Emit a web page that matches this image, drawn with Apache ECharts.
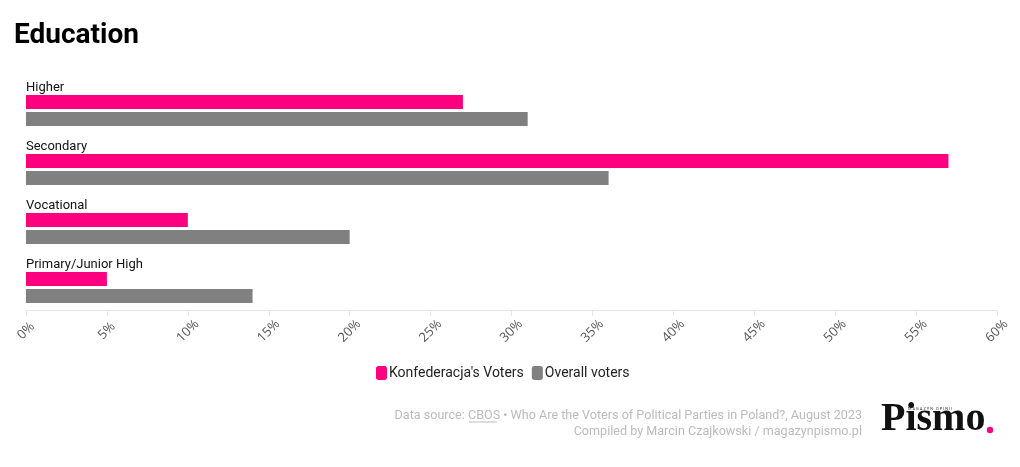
<!DOCTYPE html>
<html>
<head>
<meta charset="utf-8">
<script src="https://cdn.jsdelivr.net/npm/echarts@6/dist/echarts.min.js"></script>
<style>
  html, body { margin: 0; padding: 0; background: #fff; }
  #chart { width: 1020px; height: 467px; }
</style>
</head>
<body>
<div id="chart"></div>
<script>
const categories = ['Higher', 'Secondary', 'Vocational', 'Primary/Junior High']
const konfederacja = [27, 57, 10, 5]
const overall = [31, 36, 20, 14]
const xTicks = { min: 0, max: 60, interval: 5 }

const chart = echarts.init(document.getElementById('chart'))
chart.setOption({
  animation: false,
  textStyle: { fontFamily: 'Roboto' },
  title: {
    text: 'Education', left: 9, top: 17,
    textStyle: { fontSize: 28, fontWeight: 'bold', color: '#000', fontFamily: 'Roboto' }
  },
  legend: {
    bottom: 82, left: 371, itemWidth: 11, itemHeight: 14, itemGap: 8,
    icon: 'roundRect',
    textStyle: { fontSize: 14, color: '#222', padding: [0, 0, 0, -3] },
    data: ["Konfederacja's Voters", 'Overall voters']
  },
  grid: { left: 26, right: 23, top: 81, bottom: 150 },
  xAxis: {
    type: 'value', min: xTicks.min, max: xTicks.max, interval: xTicks.interval,
    offset: -7,
    axisLine: { show: true, lineStyle: { color: '#e6e6e6' } },
    axisTick: { show: true, length: 6, lineStyle: { color: '#e6e6e6' } },
    splitLine: { show: false },
    axisLabel: {
      rotate: 45, margin: 21, fontSize: 13, color: '#555', fontFamily: 'Open Sans',
      align: 'center', verticalAlign: 'middle',
      formatter: v => v + '%'
    }
  },
  yAxis: {
    type: 'category', data: categories, inverse: true,
    axisLine: { show: false }, axisTick: { show: false },
    axisLabel: {
      inside: true, margin: 0, fontSize: 13, color: '#111',
      verticalAlign: 'bottom', padding: [0, 0, 16, 0]
    }
  },
  series: [
    {
      name: "Konfederacja's Voters", type: 'bar', data: konfederacja,
      barWidth: 14, barGap: '22%', itemStyle: { color: '#fd0080' }
    },
    {
      name: 'Overall voters', type: 'bar', data: overall,
      barWidth: 14, barGap: '22%', itemStyle: { color: '#808080' }
    }
  ],
  graphic: [
    {
      type: 'text', right: 158, top: 409,
      style: {
        text: 'Data source: CBOS • Who Are the Voters of Political Parties in Poland?, August 2023',
        fill: '#bbb', font: '12.6px Roboto', textAlign: 'right'
      }
    },
    {
      type: 'text', right: 158, top: 425,
      style: {
        text: 'Compiled by Marcin Czajkowski / magazynpismo.pl',
        fill: '#bbb', font: '12.6px Roboto', textAlign: 'right'
      }
    },
    { type: 'line', shape: { x1: 469, y1: 422, x2: 497, y2: 422 }, style: { stroke: '#bbb', lineWidth: 1 } },
    {
      type: 'text', left: 881, top: 400,
      style: { text: 'Pismo', fill: '#111', font: 'bold 40px "Liberation Serif"' }
    },
    {
      type: 'text', left: 908, top: 407,
      style: { text: 'M A G A Z Y N   O P I N I I', fill: '#333', font: '4px Roboto' }
    },
    { type: 'circle', shape: { cx: 990, cy: 430, r: 3.2 }, style: { fill: '#fd0080' } }
  ]
})
</script>
</body>
</html>
